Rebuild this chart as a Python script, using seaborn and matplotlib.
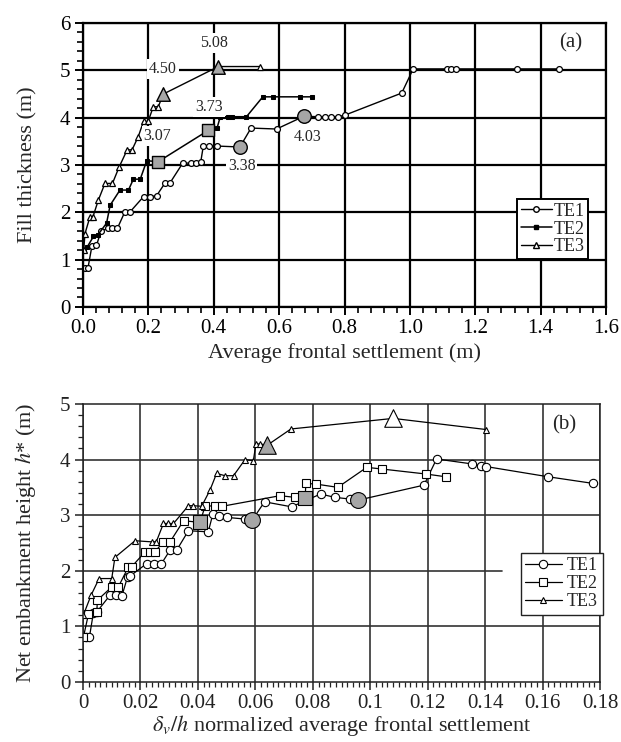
import matplotlib
matplotlib.use("Agg")
import matplotlib.pyplot as plt
from matplotlib.lines import Line2D
from matplotlib.ticker import MultipleLocator, FormatStrFormatter, FuncFormatter
import seaborn as sns

# ---- panel (a): fill thickness vs average frontal settlement ----
te1a_x = [0.006, 0.015, 0.027, 0.041, 0.055, 0.075, 0.090, 0.105, 0.128, 0.144, 0.185, 0.205,
          0.225, 0.251, 0.266, 0.305, 0.330, 0.347, 0.360, 0.368, 0.385, 0.410, 0.480, 0.514,
          0.592, 0.676, 0.720, 0.740, 0.760, 0.780, 0.800, 0.975, 1.010, 1.112, 1.125, 1.140,
          1.328, 1.455]
te1a_y = [0.82, 0.82, 1.28, 1.30, 1.60, 1.66, 1.66, 1.66, 2.01, 2.01, 2.33, 2.33,
          2.35, 2.62, 2.62, 3.04, 3.04, 3.04, 3.06, 3.40, 3.40, 3.40, 3.38, 3.78,
          3.76, 4.03, 4.02, 4.02, 4.02, 4.02, 4.05, 4.52, 5.03, 5.03, 5.03, 5.03,
          5.03, 5.03]

te2a_x = [0.003, 0.013, 0.032, 0.045, 0.072, 0.083, 0.113, 0.139, 0.154, 0.175, 0.195, 0.230,
          0.383, 0.410, 0.420, 0.444, 0.455, 0.500, 0.550, 0.580, 0.664, 0.702]
te2a_y = [1.20, 1.27, 1.49, 1.52, 1.77, 2.15, 2.47, 2.47, 2.70, 2.70, 3.09, 3.07,
          3.73, 3.78, 4.02, 4.02, 4.02, 4.02, 4.44, 4.44, 4.44, 4.44]

te3a_x = [0.002, 0.006, 0.021, 0.030, 0.047, 0.067, 0.090, 0.110, 0.135, 0.150, 0.169, 0.185,
          0.199, 0.215, 0.230, 0.246, 0.414, 0.540]
te3a_y = [1.20, 1.55, 1.90, 1.90, 2.26, 2.61, 2.61, 2.95, 3.32, 3.32, 3.60, 3.92,
          3.92, 4.23, 4.23, 4.50, 5.08, 5.08]

# highlighted stages with their stated thickness
key1a_x, key1a_y = [0.480, 0.676], [3.38, 4.03]
key2a_x, key2a_y = [0.230, 0.383], [3.07, 3.73]
key3a_x, key3a_y = [0.246, 0.414], [4.50, 5.08]

# value labels: text, x, y
notes_a = [("5.08", 0.400, 5.58), ("4.50", 0.245, 5.03), ("3.73", 0.386, 4.22),
           ("3.07", 0.228, 3.62), ("3.38", 0.485, 2.98), ("4.03", 0.687, 3.60)]

# ---- panel (b): net embankment height vs normalized settlement ----
te1b_x = [0.0010, 0.0022, 0.0036, 0.0048, 0.0094, 0.0115, 0.0135, 0.0155, 0.0165, 0.0222,
          0.0248, 0.0272, 0.0303, 0.0326, 0.0367, 0.0436, 0.0452, 0.0475, 0.0500, 0.0564,
          0.0589, 0.0632, 0.0726, 0.0827, 0.0877, 0.0929, 0.0958, 0.1187, 0.1231, 0.1356,
          0.1384, 0.1402, 0.1620, 0.1777]
te1b_y = [0.80, 0.80, 1.24, 1.26, 1.56, 1.56, 1.54, 1.89, 1.91, 2.13,
          2.13, 2.12, 2.37, 2.37, 2.72, 2.70, 3.02, 2.99, 2.96, 2.93,
          2.91, 3.24, 3.15, 3.38, 3.32, 3.29, 3.27, 3.54, 4.01, 3.92,
          3.89, 3.875, 3.69, 3.57]

te2b_x = [0.0001, 0.0019, 0.0048, 0.0050, 0.0100, 0.0123, 0.0158, 0.0169, 0.0216, 0.0233,
          0.0250, 0.0280, 0.0303, 0.0350, 0.0407, 0.0425, 0.0460, 0.0485, 0.0686, 0.0738,
          0.0773, 0.0776, 0.0810, 0.0887, 0.0988, 0.1040, 0.1194, 0.1263]
te2b_y = [0.80, 1.22, 1.26, 1.47, 1.71, 1.71, 2.07, 2.07, 2.34, 2.34,
          2.34, 2.52, 2.52, 2.90, 2.87, 3.16, 3.17, 3.16, 3.35, 3.32,
          3.30, 3.57, 3.56, 3.50, 3.86, 3.83, 3.74, 3.69]

te3b_x = [0.0001, 0.0028, 0.0056, 0.0100, 0.0111, 0.0181, 0.0239, 0.0255, 0.0280, 0.0297,
          0.0315, 0.0367, 0.0384, 0.0413, 0.0442, 0.0465, 0.0494, 0.0524, 0.0564, 0.0593,
          0.0602, 0.0616, 0.0642, 0.0724, 0.1080, 0.1403]
te3b_y = [1.20, 1.56, 1.86, 1.86, 2.24, 2.54, 2.52, 2.52, 2.85, 2.85,
          2.85, 3.17, 3.17, 3.16, 3.45, 3.75, 3.71, 3.71, 4.00, 3.98,
          4.28, 4.28, 4.26, 4.55, 4.74, 4.54]

key1b_x, key1b_y = [0.0589, 0.0958], [2.91, 3.27]
key2b_x, key2b_y = [0.0407, 0.0773], [2.87, 3.30]
key3b_x, key3b_y = [0.0642], [4.26]
peak3b_x, peak3b_y = [0.1080], [4.74]

series_names = ["TE1", "TE2", "TE3"]

sns.set_theme(style="white")
plt.rcParams["font.family"] = ["Liberation Serif", "DejaVu Serif"]
plt.rcParams["mathtext.fontset"] = "stix"

fig = plt.figure(figsize=(6.21, 7.42), dpi=100)
ax_a = fig.add_axes([0.1337, 0.5863, 0.8422, 0.3827])
ax_b = fig.add_axes([0.1337, 0.0809, 0.8325, 0.3747])

TICK_FS = 15
LABEL_FS = 16


def trace(ax, x, y, **kw):
    sns.lineplot(x=x, y=y, sort=False, estimator=None, ax=ax, color="black",
                 legend=False, **kw)


def keypoints(ax, x, y, marker, size, face="#a6a6a6", lw=1.0):
    sns.scatterplot(x=x, y=y, ax=ax, marker=marker, s=size, color=face,
                    edgecolor="black", linewidth=lw, zorder=5, legend=False)


# ---------------- panel (a) ----------------
trace(ax_a, te1a_x, te1a_y, lw=1.0, marker="o", markersize=4.2,
      markerfacecolor="white", markeredgecolor="black", markeredgewidth=0.9)
trace(ax_a, te2a_x, te2a_y, lw=1.1, marker="s", markersize=3.0,
      markerfacecolor="black", markeredgecolor="black")
trace(ax_a, te3a_x, te3a_y, lw=1.0, marker="^", markersize=4.5,
      markerfacecolor="white", markeredgecolor="black", markeredgewidth=0.9)
keypoints(ax_a, key1a_x, key1a_y, "o", 95)
keypoints(ax_a, key2a_x, key2a_y, "s", 70)
keypoints(ax_a, key3a_x, key3a_y, "^", 95)

for txt, tx, ty in notes_a:
    ax_a.text(tx, ty, txt, ha="center", va="center", fontsize=11.5, zorder=6,
              bbox=dict(facecolor="white", edgecolor="none", pad=1.5))

ax_a.set_xlim(0, 1.6)
ax_a.set_ylim(0, 6)
ax_a.xaxis.set_major_locator(MultipleLocator(0.2))
ax_a.xaxis.set_minor_locator(MultipleLocator(0.04))
ax_a.yaxis.set_major_locator(MultipleLocator(1))
ax_a.yaxis.set_minor_locator(MultipleLocator(0.2))
ax_a.xaxis.set_major_formatter(FormatStrFormatter("%.1f"))
ax_a.grid(True, which="major", color="black", lw=1.6)
ax_a.set_axisbelow(True)
for s in ax_a.spines.values():
    s.set_color("black")
    s.set_linewidth(1.6)
ax_a.tick_params(which="both", direction="out", bottom=True, left=True,
                 top=False, right=False, colors="black", labelsize=TICK_FS, pad=3)
ax_a.tick_params(which="major", length=6, width=1.4)
ax_a.tick_params(which="minor", length=4.5, width=1.2)
ax_a.set_xlabel("Average frontal settlement (m)", fontsize=LABEL_FS, labelpad=3)
ax_a.set_ylabel("Fill thickness (m)", fontsize=LABEL_FS, labelpad=16)
ax_a.text(0.955, 0.93, "(a)", transform=ax_a.transAxes, ha="right", va="center",
          fontsize=15)

handles_a = [
    Line2D([], [], color="black", lw=1.0, marker="o", markersize=4,
           markerfacecolor="white", markeredgecolor="black"),
    Line2D([], [], color="black", lw=1.1, marker="s", markersize=2.5,
           markerfacecolor="black"),
    Line2D([], [], color="black", lw=1.0, marker="^", markersize=4.5,
           markerfacecolor="white", markeredgecolor="black"),
]
leg_a = ax_a.legend(handles_a, series_names, loc="upper right",
                    bbox_to_anchor=(0.966, 0.38), fontsize=13, frameon=True,
                    fancybox=False, framealpha=1, edgecolor="black",
                    handlelength=1.7, handletextpad=0.1, labelspacing=0.05,
                    borderpad=0.2, borderaxespad=0)
leg_a.get_frame().set_linewidth(1.4)

# ---------------- panel (b) ----------------
trace(ax_b, te1b_x, te1b_y, lw=0.9, marker="o", markersize=6.0,
      markerfacecolor="white", markeredgecolor="black", markeredgewidth=0.8)
trace(ax_b, te2b_x, te2b_y, lw=0.9, marker="s", markersize=5.5,
      markerfacecolor="white", markeredgecolor="black", markeredgewidth=0.8)
trace(ax_b, te3b_x, te3b_y, lw=0.9, marker="^", markersize=4.2,
      markerfacecolor="white", markeredgecolor="black", markeredgewidth=0.8)
keypoints(ax_b, key1b_x, key1b_y, "o", 130, lw=0.8)
keypoints(ax_b, key2b_x, key2b_y, "s", 110, lw=0.8)
keypoints(ax_b, key3b_x, key3b_y, "^", 160, lw=0.8)
keypoints(ax_b, peak3b_x, peak3b_y, "^", 160, face="white", lw=0.8)

ax_b.set_xlim(0, 0.18)
ax_b.set_ylim(0, 5)
ax_b.xaxis.set_major_locator(MultipleLocator(0.02))
ax_b.xaxis.set_minor_locator(MultipleLocator(0.002))
ax_b.yaxis.set_major_locator(MultipleLocator(1))
ax_b.yaxis.set_minor_locator(MultipleLocator(0.2))
ax_b.xaxis.set_major_formatter(FuncFormatter(lambda v, p: f"{v:g}"))
ax_b.grid(True, axis="x", which="major", color="#333333", lw=1.2)
for lvl in [1, 3, 4]:
    ax_b.axhline(lvl, color="#333333", lw=1.2, zorder=0.5)
ax_b.axhline(2, xmax=0.81, color="#333333", lw=1.2, zorder=0.5)
ax_b.set_axisbelow(True)
for s in ax_b.spines.values():
    s.set_color("#222222")
    s.set_linewidth(1.1)
ax_b.tick_params(which="both", direction="out", bottom=True, left=True,
                 top=False, right=False, colors="#222222", labelsize=TICK_FS, pad=3)
ax_b.tick_params(which="major", length=6, width=1.1)
ax_b.tick_params(which="minor", length=3.5, width=0.9)
ax_b.set_xlabel(r"$\delta_v/h$ normalized average frontal settlement",
                fontsize=LABEL_FS, labelpad=0)
ax_b.set_ylabel(r"Net embankment height $h$* (m)", fontsize=LABEL_FS, labelpad=16)
ax_b.text(0.955, 0.925, "(b)", transform=ax_b.transAxes, ha="right", va="center",
          fontsize=15)

handles_b = [
    Line2D([], [], color="black", lw=0.9, marker="o", markersize=6,
           markerfacecolor="white", markeredgecolor="black", markeredgewidth=0.8),
    Line2D([], [], color="black", lw=0.9, marker="s", markersize=5.5,
           markerfacecolor="white", markeredgecolor="black", markeredgewidth=0.8),
    Line2D([], [], color="black", lw=0.9, marker="^", markersize=4,
           markerfacecolor="white", markeredgecolor="black", markeredgewidth=0.8),
]
leg_b = ax_b.legend(handles_b, series_names, loc="upper right",
                    bbox_to_anchor=(1.005, 0.465), fontsize=13, frameon=True,
                    fancybox=False, framealpha=1, edgecolor="#222222",
                    handlelength=2.0, handletextpad=0.3, labelspacing=0.05,
                    borderpad=0.25, borderaxespad=0)
leg_b.get_frame().set_linewidth(1.0)

fig.savefig("out.png", dpi=100)
